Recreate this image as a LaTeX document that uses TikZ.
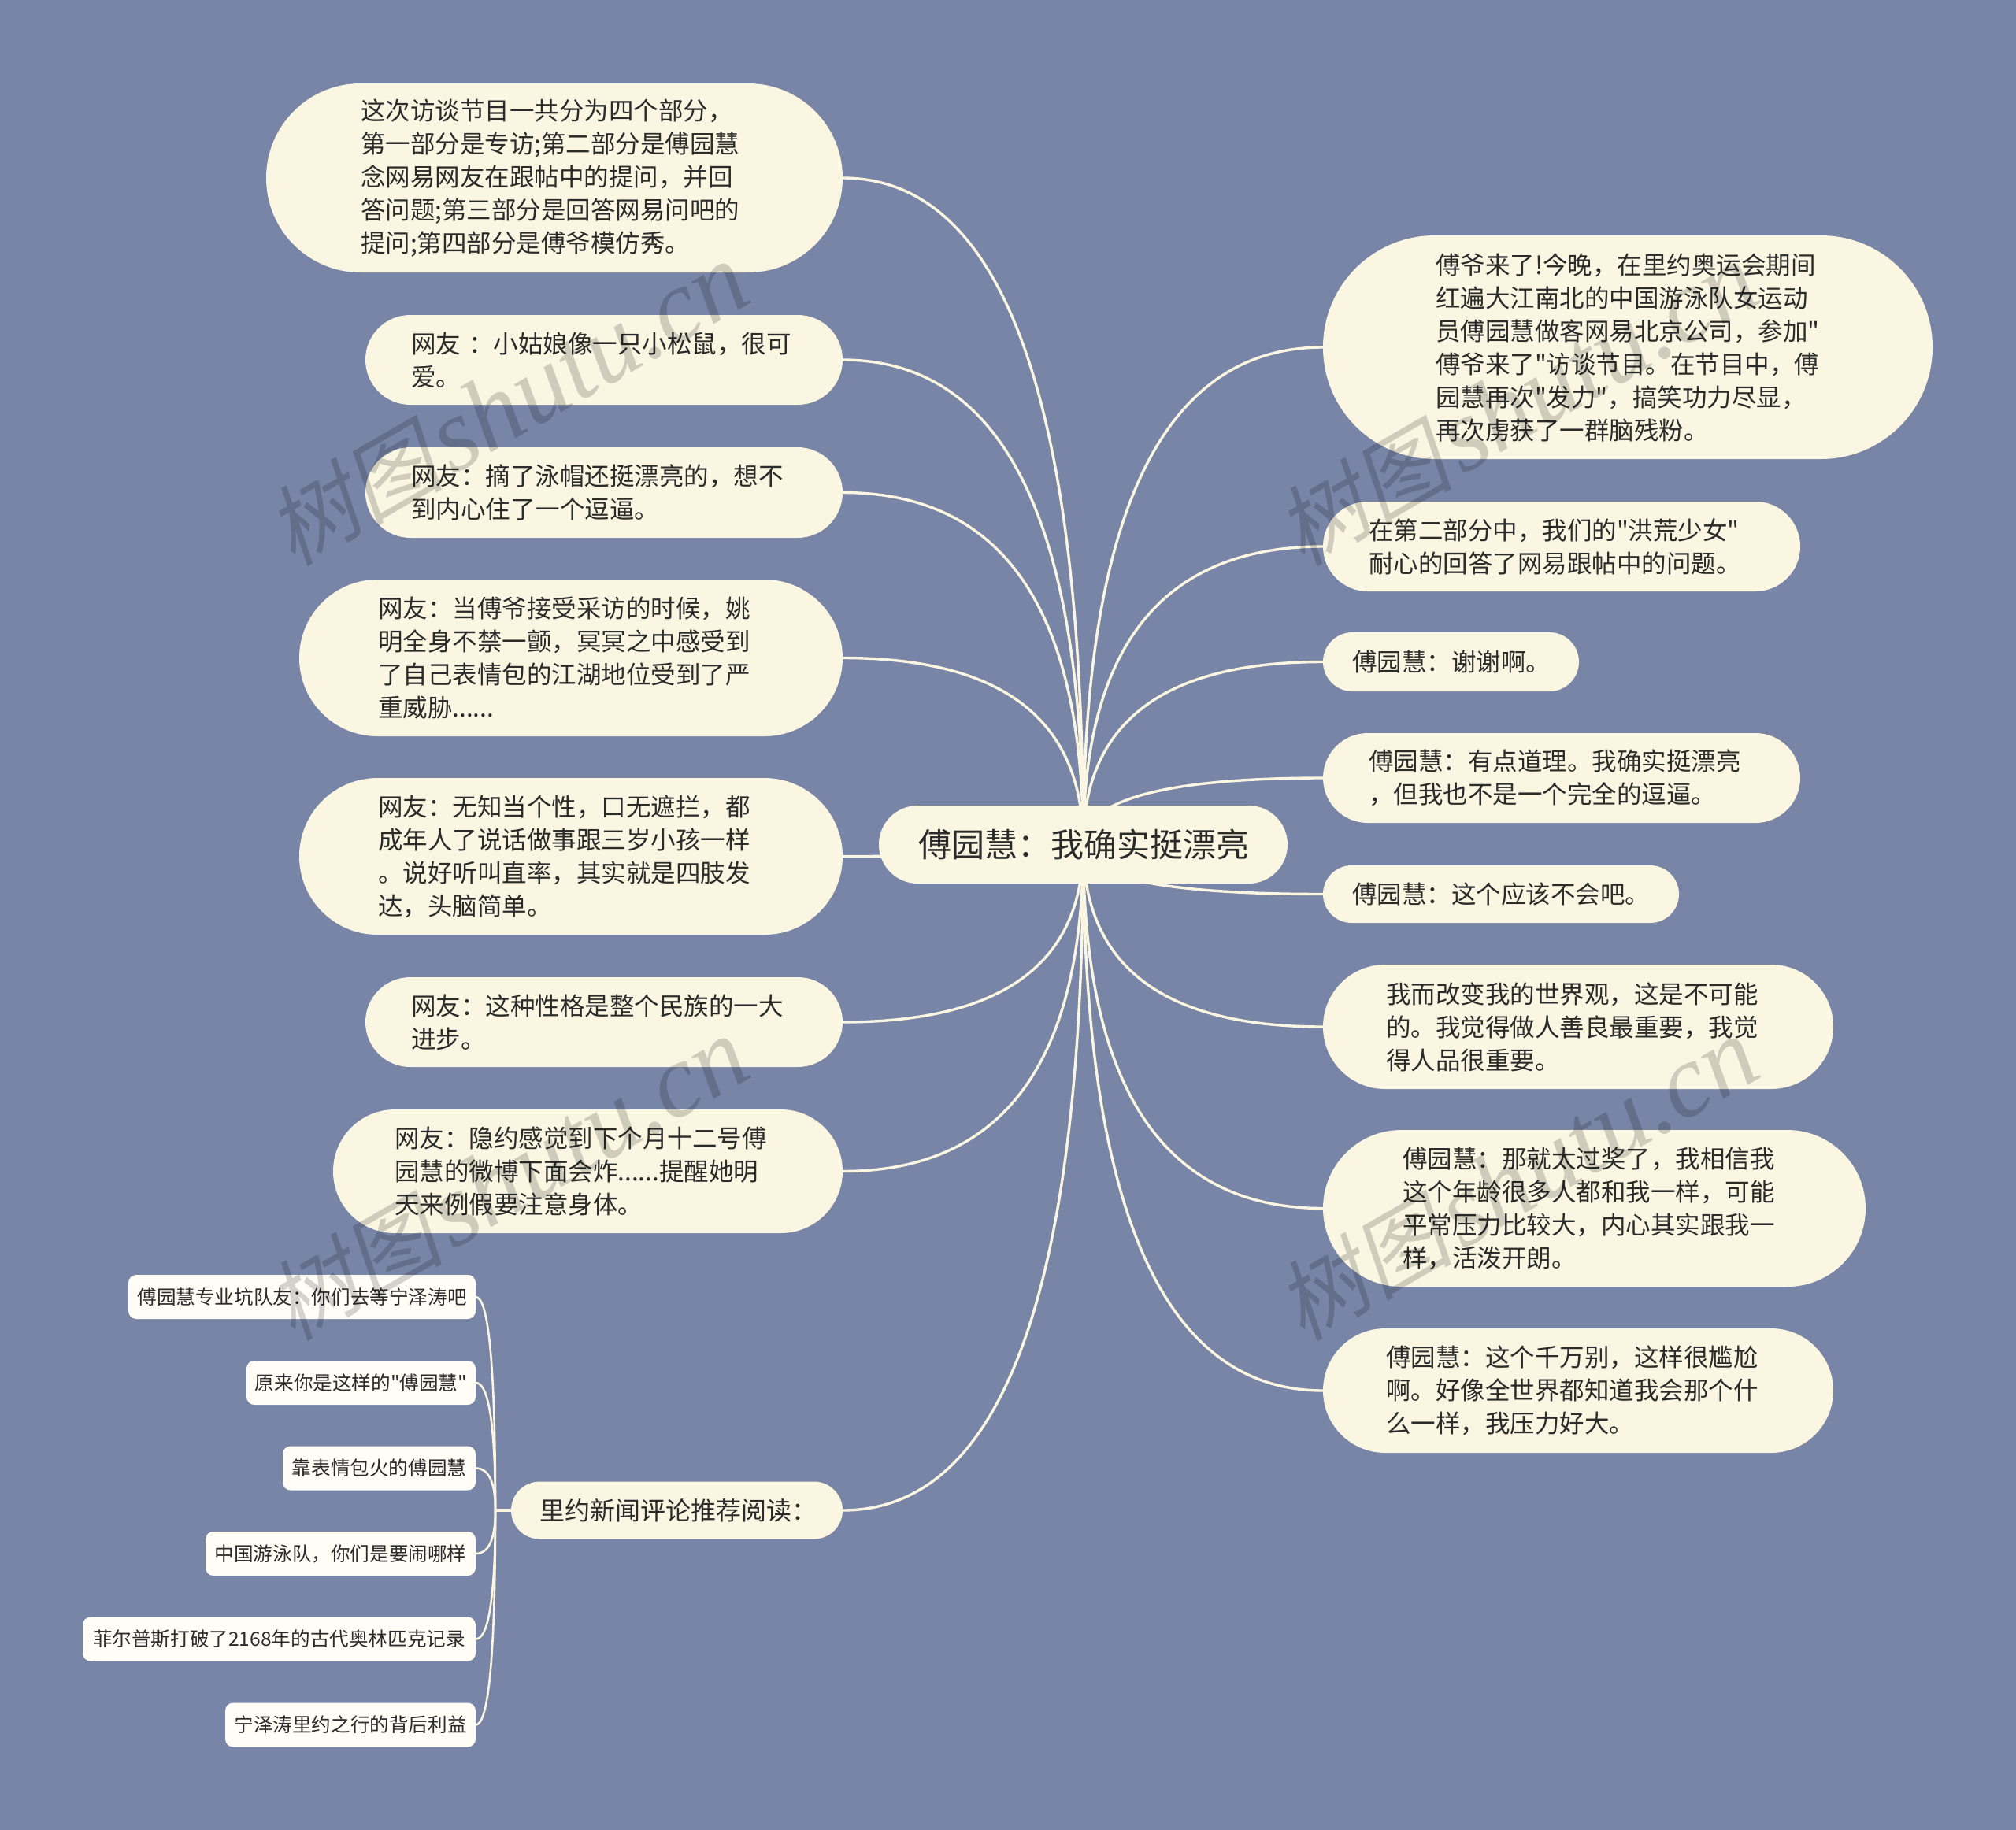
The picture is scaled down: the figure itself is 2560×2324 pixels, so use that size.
\documentclass[tikz,border=0pt]{standalone}
\usepackage{fontspec}
\setmainfont{Noto Sans CJK SC}[Ligatures=TeXOff]
\newfontfamily\markcjk{Noto Sans CJK SC}[FakeSlant=0.2]
\newfontfamily\marklatin{Liberation Serif}[ItalicFont=* Italic]
\usetikzlibrary{backgrounds,calc}
\definecolor{paper}{HTML}{7885A6}
\definecolor{cream}{HTML}{FAF6E1}
\definecolor{leafwhite}{HTML}{FFFDF6}
\definecolor{ink}{HTML}{2B2B2B}
\begin{document}
\begin{tikzpicture}[x=0.5pt,y=-0.5pt,idea/.style n args={3}{rectangle, fill=cream, text=ink, align=left, outer sep=0pt, inner ysep=0pt, inner xsep={#3*0.5pt}, text width={(#1-2*#3)*0.5pt}, minimum height={#2*0.5pt}, rounded corners={#2*0.25pt-0.05pt}, font=\fontsize{15.75}{21}\selectfont}]
    \tikzset{leaf/.style={rectangle, fill=leafwhite, text=ink, align=center, outer sep=0pt, inner sep=0pt, minimum width={#1*0.5pt}, minimum height=28pt, rounded corners=5pt, font=\fontsize{12.3}{15}\selectfont}}
    \tikzset{link/.style={draw=cream, line width=1.7pt}, twig/.style={draw=cream, line width=1.3pt}}
    \tikzset{stamp/.style={rotate=30, text=black, text opacity=0.17, inner sep=0pt}}
    \def \markname {{\fontsize{56}{60}\selectfont\markcjk 树图}\hspace{5pt}{\fontsize{66}{60}\selectfont\marklatin\itshape shutu.cn}}
    \useasboundingbox (0,0) rectangle (2560,2324);

    \node[idea={519}{99}{50}, font=\fontsize{21}{26}\selectfont] (root) at (1375.5,1072.5) {傅园慧：我确实挺漂亮};

    % left side
    \node[idea={732}{240}{120}] (l1) at (704,226) {这次访谈节目一共分为四个部分，\\第一部分是专访;第二部分是傅园慧\\念网易网友在跟帖中的提问，并回\\答问题;第三部分是回答网易问吧的\\提问;第四部分是傅爷模仿秀。};
    \node[idea={606}{114}{58}] (l2) at (767,457) {网友 ：小姑娘像一只小松鼠，很可\\爱。};
    \node[idea={606}{115}{58}] (l3) at (767,625.5) {网友：摘了泳帽还挺漂亮的，想不\\到内心住了一个逗逼。};
    \node[idea={690}{199}{100}] (l4) at (725,835.5) {网友：当傅爷接受采访的时候，姚\\明全身不禁一颤，冥冥之中感受到\\了自己表情包的江湖地位受到了严\\重威胁......};
    \node[idea={690}{199}{100}] (l5) at (725,1087.5) {网友：无知当个性，口无遮拦，都\\成年人了说话做事跟三岁小孩一样\\。说好听叫直率，其实就是四肢发\\达，头脑简单。};
    \node[idea={606}{114}{58}] (l6) at (767,1298) {网友：这种性格是整个民族的一大\\进步。};
    \node[idea={647}{157}{78}] (l7) at (746.5,1487.5) {网友：隐约感觉到下个月十二号傅\\园慧的微博下面会炸......提醒她明\\天来例假要注意身体。};
    \node[idea={421}{73}{36}, font=\fontsize{16}{21}\selectfont] (rio) at (859.5,1918) {里约新闻评论推荐阅读：};

    % right side
    \node[idea={774}{284}{143}] (r1) at (2067,441) {傅爷来了!今晚，在里约奥运会期间\\红遍大江南北的中国游泳队女运动\\员傅园慧做客网易北京公司，参加"\\傅爷来了"访谈节目。在节目中，傅\\园慧再次"发力"，搞笑功力尽显，\\再次虏获了一群脑残粉。};
    \node[idea={606}{114}{58}] (r2) at (1983,694) {在第二部分中，我们的"洪荒少女"\\耐心的回答了网易跟帖中的问题。};
    \node[idea={325}{75}{37}] (r3) at (1842.5,840.5) {傅园慧：谢谢啊。};
    \node[idea={606}{114}{58}] (r4) at (1983,988) {傅园慧：有点道理。我确实挺漂亮\\，但我也不是一个完全的逗逼。};
    \node[idea={452}{73}{37}] (r5) at (1906,1135.5) {傅园慧：这个应该不会吧。};
    \node[idea={648}{158}{80}] (r6) at (2004,1304) {我而改变我的世界观，这是不可能\\的。我觉得做人善良最重要，我觉\\得人品很重要。};
    \node[idea={689}{199}{101}] (r7) at (2024.5,1534.5) {傅园慧：那就太过奖了，我相信我\\这个年龄很多人都和我一样，可能\\平常压力比较大，内心其实跟我一\\样，活泼开朗。};
    \node[idea={648}{158}{80}] (r8) at (2004,1766) {傅园慧：这个千万别，这样很尴尬\\啊。好像全世界都知道我会那个什\\么一样，我压力好大。};

    % reading list
    \node[leaf=441] (s1) at (383.5,1647) {傅园慧专业坑队友：你们去等宁泽涛吧};
    \node[leaf=291] (s2) at (458.5,1756) {原来你是这样的"傅园慧"};
    \node[leaf=245] (s3) at (481.5,1864.5) {靠表情包火的傅园慧};
    \node[leaf=343] (s4) at (432.5,1973) {中国游泳队，你们是要闹哪样};
    \node[leaf=499] (s5) at (354.5,2081.5) {菲尔普斯打破了2168年的古代奥林匹克记录};
    \node[leaf=318] (s6) at (445,2190.5) {宁泽涛里约之行的背后利益};
    \coordinate (hub) at (629,1918);

    \begin{pgfonlayer}{background}
    \fill[paper] (0,0) rectangle (2560,2324);
    \foreach \s in {l1,l2,l3,l4,l5,l6,l7,rio} {
    \draw[link] (root.center) .. controls ($(root.center)!0.667!(root.center |- \s.east)$) and ($(\s.east)!0.667!(root.center |- \s.east)$) .. (\s.east);
    }
    \foreach \s in {r1,r2,r3,r4,r5,r6,r7,r8} {
    \draw[link] (root.center) .. controls ($(root.center)!0.667!(root.center |- \s.west)$) and ($(\s.west)!0.667!(root.center |- \s.west)$) .. (\s.west);
    }
    \foreach \s in {s1,s2,s3,s4,s5,s6} {
    \draw[twig] (hub) .. controls ($(hub)!0.667!(hub |- \s.east)$) and ($(\s.east)!0.667!(hub |- \s.east)$) .. (\s.east);
    }
    \draw[link] (rio.west) -- (hub);
    \end{pgfonlayer}

    \node[stamp] (mark1) at (645,514) {\markname};
    \node[stamp] (mark2) at (1927,514) {\markname};
    \node[stamp] (mark3) at (645,1498) {\markname};
    \node[stamp] (mark4) at (1927,1498) {\markname};
\end{tikzpicture}
\end{document}
